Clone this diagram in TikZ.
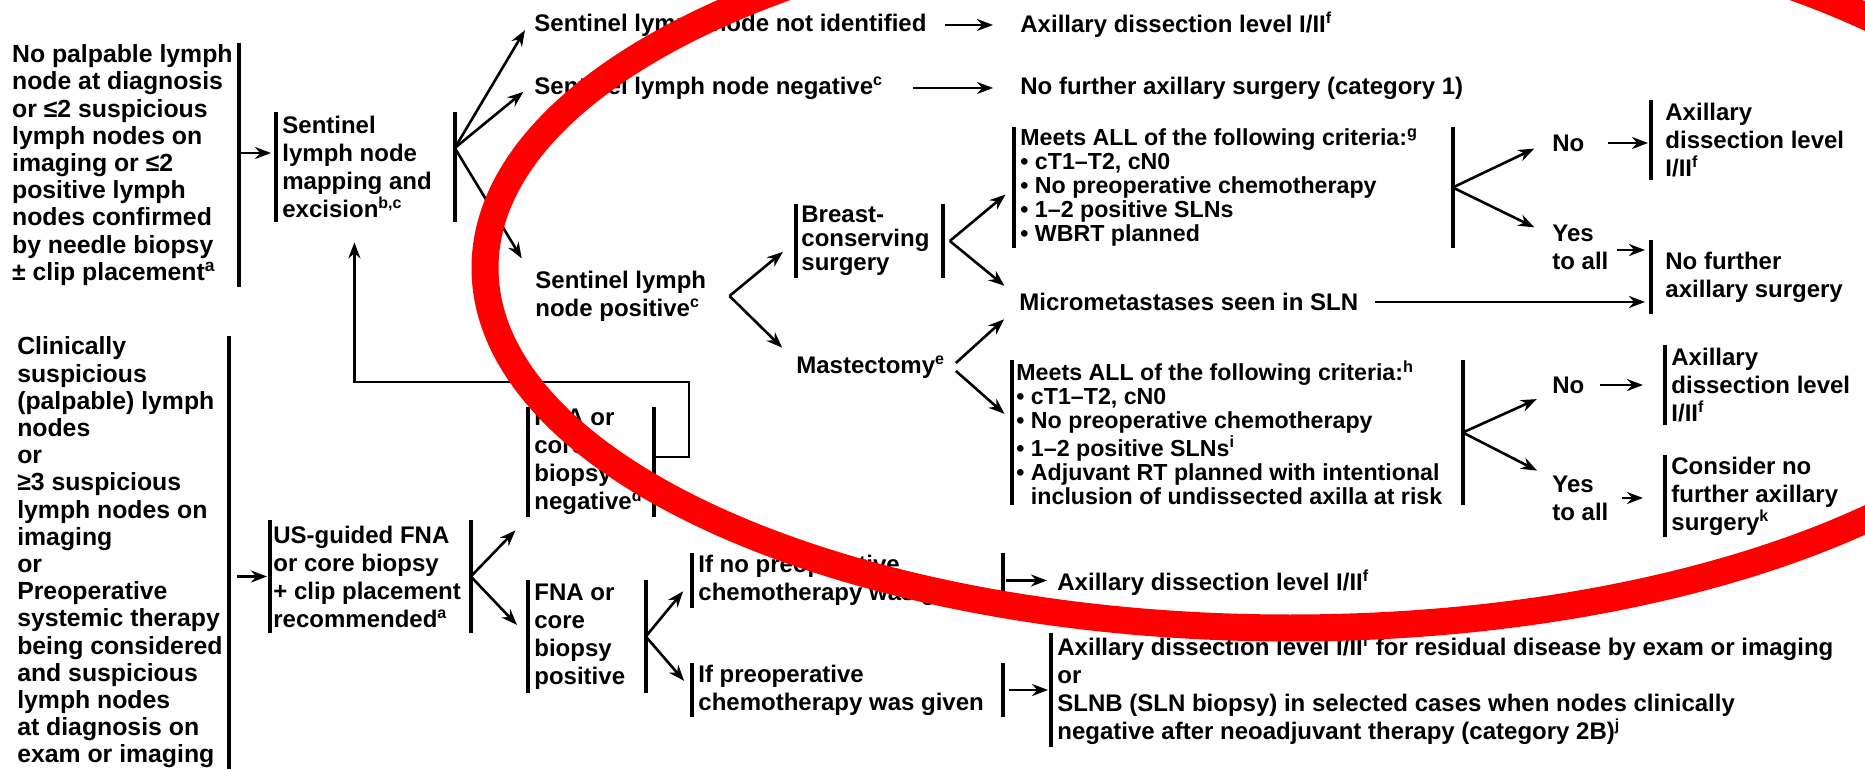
\documentclass[tikz,border=0pt]{standalone}
\usepackage{fontspec}
\setmainfont{Liberation Sans}
\usetikzlibrary{arrows.meta}

\begin{document}
\begin{tikzpicture}[x=0.5pt, y=-0.5pt]
      \tikzstyle{STY1} = [inner xsep=3pt, inner ysep=0pt, align=flush left, anchor=west, font=\fontsize{12}{14}\selectfont\bfseries]
      \tikzstyle{STY2} = [-{Stealth[length=8pt, width=6pt]}, line width=1.3pt]
      \tikzstyle{BAR} = [-, line width=2pt]
      \tikzstyle{LB} = [append after command={(\tikzlastnode.north west) edge[BAR] (\tikzlastnode.south west)}]
      \tikzstyle{RB} = [append after command={(\tikzlastnode.north east) edge[BAR] (\tikzlastnode.south east)}]
      \tikzstyle{TIGHT} = [font=\fontsize{12}{12}\selectfont\bfseries]
      \tikzstyle{LIST} = [font=\fontsize{11.6}{12}\selectfont\bfseries]
      \tikzstyle{WIDE} = [font=\fontsize{12.4}{13.6}\selectfont\bfseries]

      \useasboundingbox (0,0) rectangle (1865,770);

      %%%%% VERTEX

      \node[STY1, WIDE, RB, anchor=east, minimum height=122pt](v1) at (239, 165) {No palpable lymph\\node at diagnosis\\or ≤2 suspicious\\lymph nodes on\\imaging or ≤2\\positive lymph\\nodes confirmed\\by needle biopsy\\± clip placement\textsuperscript{a}};
      \node[STY1, LB, RB, text width=83pt, minimum height=55pt](v2) at (276, 167) {Sentinel\\lymph node\\mapping and\\excision\textsuperscript{b,c}};

      \node[STY1](v3) at (528, 25) {Sentinel lymph node not identified};
      \node[STY1](v4) at (1014, 25) {Axillary dissection level I/II\textsuperscript{f}};
      \node[STY1](v5) at (528, 88) {Sentinel lymph node negative\textsuperscript{c}};
      \node[STY1](v6) at (1014, 88) {No further axillary surgery (category 1)};
      \node[STY1](v7) at (529, 296) {Sentinel lymph\\node positive\textsuperscript{c}};

      \node[STY1, TIGHT, LB, RB, text width=68pt, inner xsep=2.5pt, minimum height=37pt](v8) at (796, 241) {Breast-\\conserving\\surgery};
      \node[STY1](v9) at (790, 367) {Mastectomy\textsuperscript{e}};
      \node[STY1](v10) at (1013, 302) {Micrometastases seen in SLN};

      \node[STY1, LIST, LB, RB, text width=213pt, minimum height=60.5pt](v11) at (1014, 187.5) {Meets ALL of the following criteria:\textsuperscript{g}\\• cT1–T2, cN0\\• No preoperative chemotherapy\\• 1–2 positive SLNs\\• WBRT planned};
      \node[STY1, LIST, LB, RB, text width=221pt, inner xsep=2pt, minimum height=72.5pt](v12) at (1012, 432.5) {Meets ALL of the following criteria:\textsuperscript{h}\\• cT1–T2, cN0\\• No preoperative chemotherapy\\• 1–2 positive SLNs\textsuperscript{i}\\• Adjuvant RT planned with intentional\\\phantom{• }inclusion of undissected axilla at risk};

      \node[STY1](v13) at (1546, 143) {No};
      \node[STY1, LB, inner xsep=7pt, minimum height=40pt](v14) at (1651, 140) {Axillary\\dissection level\\I/II\textsuperscript{f}};
      \node[STY1](v15) at (1546, 247) {Yes\\to all};
      \node[STY1, LB, inner xsep=7pt, minimum height=36.5pt](v16) at (1651, 277) {No further\\axillary surgery};

      \node[STY1](v17) at (1546, 385) {No};
      \node[STY1, LB, minimum height=40pt](v18) at (1665, 385) {Axillary\\dissection level\\I/II\textsuperscript{f}};
      \node[STY1](v19) at (1546, 498) {Yes\\to all};
      \node[STY1, LB, minimum height=41pt](v20) at (1665, 496) {Consider no\\further axillary\\surgery\textsuperscript{k}};

      \node[STY1, WIDE, RB, anchor=east, minimum height=215.5pt](v21) at (229, 552.5) {Clinically\\suspicious\\(palpable) lymph\\nodes\\or\\≥3 suspicious\\lymph nodes on\\imaging\\or\\Preoperative\\systemic therapy\\being considered\\and suspicious\\lymph nodes\\at diagnosis on\\exam or imaging};
      \node[STY1, LB, RB, text width=97pt, inner xsep=1.5pt, minimum height=56.5pt](v22) at (270, 576.5) {US-guided FNA\\or core biopsy\\+ clip placement\\recommended\textsuperscript{a}};

      \node[STY1, LB, RB, text width=56.5pt, minimum height=55pt](v23) at (528, 462) {FNA or\\core\\biopsy\\negative\textsuperscript{d}};
      \node[STY1, LB, RB, text width=52.5pt, minimum height=56.5pt](v24) at (528, 636.5) {FNA or\\core\\biopsy\\positive};

      \node[STY1, LB, RB, text width=149pt, minimum height=27.5pt](v25) at (692, 580.5) {If no preoperative\\chemotherapy was given};
      \node[STY1, LB, RB, text width=149pt, minimum height=27pt](v26) at (692, 690) {If preoperative\\chemotherapy was given};
      \node[STY1](v27) at (1051, 583) {Axillary dissection level I/II\textsuperscript{f}};
      \node[STY1, LB, minimum height=57pt](v28) at (1051, 690) {Axillary dissection level I/II\textsuperscript{f} for residual disease by exam or imaging\\or\\SLNB (SLN biopsy) in selected cases when nodes clinically\\negative after neoadjuvant therapy (category 2B)\textsuperscript{j}};

      \coordinate (c1) at ([yshift=9.5pt]v2.east);
      \coordinate (c2) at ([xshift=8.5pt]v7.east);
      \coordinate (c3) at ([xshift=3.5pt]v8.east);

      %%%%% EDGES

      \draw[STY2, shorten <=1pt, shorten >=2.5pt]  ([yshift=6pt]v1.east) -- ([yshift=6pt]v1.east -| v2.west);
      \draw[STY2, shorten >=3pt]  (c1) -- (v3.west);
      \draw[STY2, shorten >=3pt]  (c1) -- (v5.west);
      \draw[STY2, shorten >=7pt]  (c1) -- (v7.north west);
      \draw[STY2, shorten <=6pt, shorten >=10.5pt]  (v3.east) -- (v4.west);
      \draw[STY2, shorten <=12pt, shorten >=10.5pt]  (v5.east) -- (v6.west);

      \draw[STY2, shorten >=8.5pt]  (c2) -- (v8.west);
      \draw[STY2, shorten >=5.5pt]  (c2) -- (v9.north west);
      \draw[STY2, shorten >=5.5pt]  (c3) -- (v11.west);
      \draw[STY2, shorten >=5.5pt]  (c3) -- (v10.north west);
      \draw[STY2, shorten <=3pt, shorten >=6pt]  (v9.east) -- (v10.south west);
      \draw[STY2, shorten <=3pt, shorten >=5pt]  (v9.east) -- ([yshift=6pt]v12.west);
      \draw[STY2, shorten <=5pt, shorten >=3pt]  (v10.east) -- (v10.east -| v16.west);

      \draw[STY2, shorten >=6.5pt]  (v11.east) -- (v13.west);
      \draw[STY2, shorten >=6.5pt]  (v11.east) -- ([yshift=7pt]v15.west);
      \draw[STY2, shorten <=8.5pt, shorten >=1.5pt]  (v13.east) -- (v13.east -| v14.west);
      \draw[STY2, shorten <=1pt, shorten >=3pt]  ([yshift=-1.5pt]v15.east) -- ([yshift=-1.5pt]v15.east -| v16.west);

      \draw[STY2, shorten >=5pt]  (v12.east) -- ([yshift=-5pt]v17.west);
      \draw[STY2, shorten >=5pt]  (v12.east) -- (v19.north west);
      \draw[STY2, shorten <=4.5pt, shorten >=11pt]  (v17.east) -- (v17.east -| v18.west);
      \draw[STY2, shorten <=3.5pt, shorten >=11pt]  (v19.east) -- (v19.east -| v20.west);

      \draw[STY2, shorten <=4pt, shorten >=1.5pt]  (v22.west -| v21.east) -- (v22.west);
      \draw[STY2, shorten >=9pt]  (v22.east) -- (v23.south west);
      \draw[STY2, shorten >=8pt]  (v22.east) -- (v24.west);
      \draw[STY2, shorten >=10pt]  ([yshift=2.5pt]v23.east) -- ++(35,0) -- ++(0,-75) -| ([xshift=-5.5pt]v2.south);

      \draw[STY2, shorten >=7pt]  (v24.east) -- (v25.west);
      \draw[STY2, shorten >=6pt]  (v24.east) -- (v26.west);
      \draw[STY2, shorten <=1.5pt, shorten >=2pt]  (v25.east) -- (v25.east -| v27.west);
      \draw[STY2, shorten <=3pt, shorten >=1.5pt]  (v26.east) -- (v28.west);

      % red mark over the right part
      \begin{scope}
        \clip (0,0) rectangle (1865,770);
        \draw[red, line width=13.5pt] (1290,268) ellipse [x radius=805, y radius=360];
      \end{scope}
    \end{tikzpicture}
\end{document}
